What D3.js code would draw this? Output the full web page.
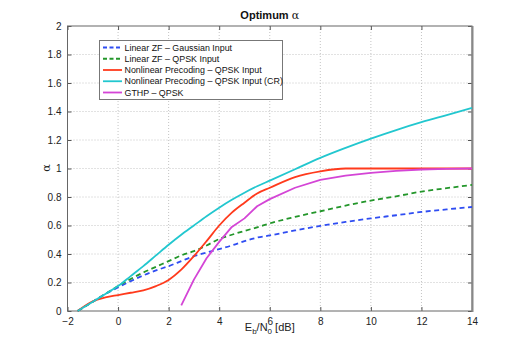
<!DOCTYPE html>
<html>
<head>
<meta charset="utf-8">
<title>Optimum alpha</title>
<script src="https://cdn.jsdelivr.net/npm/d3@7"></script>
<style>
  body { margin: 0; background: #fff; }
  svg { font-family: "Liberation Sans", Arial, sans-serif; }
</style>
</head>
<body>
<script>
// ---- data ----
var snr = [-1.6, -1, -0.5, 0, 0.5, 1, 1.5, 2, 2.5, 3, 3.5, 4, 4.5, 5, 5.5, 6, 7, 8, 9, 10, 11, 12, 13, 14];
var linZFGauss = [0, 0.065, 0.12, 0.165, 0.21, 0.25, 0.285, 0.315, 0.35, 0.385, 0.41, 0.435, 0.46, 0.49, 0.515, 0.53, 0.565, 0.597, 0.625, 0.65, 0.672, 0.695, 0.713, 0.73];
var linZFQpsk  = [0, 0.065, 0.12, 0.175, 0.225, 0.27, 0.31, 0.35, 0.39, 0.42, 0.46, 0.505, 0.535, 0.562, 0.587, 0.615, 0.66, 0.70, 0.74, 0.775, 0.805, 0.838, 0.862, 0.885];
var nlpQpsk    = [0, 0.068, 0.095, 0.112, 0.128, 0.145, 0.175, 0.218, 0.29, 0.385, 0.49, 0.60, 0.69, 0.76, 0.825, 0.865, 0.94, 0.98, 1.0, 1.0, 1.0, 1.0, 1.0, 1.0];
var nlpQpskCR  = [0, 0.065, 0.12, 0.175, 0.245, 0.315, 0.39, 0.465, 0.535, 0.60, 0.665, 0.725, 0.78, 0.83, 0.875, 0.915, 0.995, 1.075, 1.145, 1.21, 1.27, 1.325, 1.375, 1.425];
var gthpQpsk   = [null, null, null, null, null, null, null, null, 0.04, 0.22, 0.37, 0.485, 0.59, 0.65, 0.735, 0.785, 0.865, 0.92, 0.95, 0.97, 0.983, 0.993, 0.997, 1.0];

var seriesNames = ["Linear ZF \u2013 Gaussian Input", "Linear ZF \u2013 QPSK Input", "Nonlinear Precoding \u2013 QPSK Input", "Nonlinear Precoding \u2013 QPSK Input (CR)", "GTHP \u2013 QPSK"];
var seriesValues = [linZFGauss, linZFQpsk, nlpQpsk, nlpQpskCR, gthpQpsk];
var seriesColors = ["#2f4df2", "#23962a", "#ff3a1c", "#22c7cf", "#d445d6"];
var seriesDashed = [true, true, false, false, false];
var seriesSmooth = [true, true, true, true, false];

var xTicks = [-2, 0, 2, 4, 6, 8, 10, 12, 14];
var yTicks = [0, 0.2, 0.4, 0.6, 0.8, 1, 1.2, 1.4, 1.6, 1.8, 2];

// ---- layout ----
var W = 521, H = 350;
var pLeft = 67.5, pRight = 472, pTop = 26, pBottom = 311;

var svg = d3.select("body").append("svg")
            .attr("width", W)
            .attr("height", H);

var x = d3.scaleLinear().domain([-2, 14]).range([pLeft, pRight]);
var y = d3.scaleLinear().domain([0, 2]).range([pBottom, pTop]);

// grid
svg.append("g").selectAll("line").data(xTicks.slice(1, -1)).enter().append("line")
   .attr("x1", d => x(d)).attr("x2", d => x(d))
   .attr("y1", pTop).attr("y2", pBottom)
   .attr("stroke", "#c4c4c4").attr("stroke-dasharray", "1,2");
svg.append("g").selectAll("line").data(yTicks.slice(1, -1)).enter().append("line")
   .attr("x1", pLeft).attr("x2", pRight)
   .attr("y1", d => y(d)).attr("y2", d => y(d))
   .attr("stroke", "#c4c4c4").attr("stroke-dasharray", "1,2");

// axes with inside ticks
var axB = svg.append("g").attr("transform", "translate(0," + pBottom + ")")
   .call(d3.axisBottom(x).tickValues(xTicks).tickSize(-4).tickPadding(7).tickFormat(d3.format("d")));
var axT = svg.append("g").attr("transform", "translate(0," + pTop + ")")
   .call(d3.axisTop(x).tickValues(xTicks).tickSize(-4).tickFormat(""));
var axL = svg.append("g").attr("transform", "translate(" + pLeft + ",0)")
   .call(d3.axisLeft(y).tickValues(yTicks).tickSize(-4).tickPadding(6).tickFormat(d => String(+d.toFixed(1))));
var axR = svg.append("g").attr("transform", "translate(" + pRight + ",0)")
   .call(d3.axisRight(y).tickValues(yTicks).tickSize(-4).tickFormat(""));

[axB, axT, axL, axR].forEach(function(a) {
  a.select(".domain").remove();
  a.selectAll(".tick line").attr("stroke", "#555");
  a.selectAll(".tick text").attr("fill", "#222").style("font-size", "10px")
   .style("font-family", "'Liberation Sans', Arial, sans-serif");
});

// frame
svg.append("rect")
   .attr("x", pLeft).attr("y", pTop)
   .attr("width", pRight - pLeft).attr("height", pBottom - pTop)
   .attr("fill", "none").attr("stroke", "#666").attr("stroke-width", 1);
svg.append("line")
   .attr("x1", pRight + 0.5).attr("x2", pRight + 0.5)
   .attr("y1", pTop).attr("y2", pBottom + 1)
   .attr("stroke", "#888").attr("stroke-width", 2);

// curves
seriesValues.forEach(function(vals, i) {
  var line = d3.line()
               .defined(d => d[1] !== null)
               .x(d => x(d[0]))
               .y(d => y(d[1]))
               .curve(seriesSmooth[i] ? d3.curveMonotoneX : d3.curveLinear);
  svg.append("path")
     .datum(snr.map((s, j) => [s, vals[j]]))
     .attr("d", line)
     .attr("fill", "none")
     .attr("stroke", seriesColors[i])
     .attr("stroke-width", 1.8)
     .attr("stroke-dasharray", seriesDashed[i] ? "5,3.5" : null)
     .attr("stroke-linejoin", "round");
});

// title and labels
var title = svg.append("text")
   .attr("x", (pLeft + pRight) / 2).attr("y", 19)
   .attr("text-anchor", "middle")
   .style("font-size", "11px").style("font-weight", "bold")
   .attr("fill", "#111");
title.append("tspan").text("Optimum ");
title.append("tspan").style("font-family", "'DejaVu Serif', serif").style("font-weight", "normal").text("\u03b1");

svg.append("text")
   .attr("transform", "translate(50,168) rotate(-90)")
   .attr("text-anchor", "middle")
   .style("font-size", "11px").style("font-family", "'DejaVu Serif', serif")
   .attr("fill", "#222")
   .text("\u03b1");

var xl = svg.append("text")
   .attr("x", (pLeft + pRight) / 2).attr("y", 330.5)
   .attr("text-anchor", "middle")
   .style("font-size", "11px")
   .attr("fill", "#222");
xl.append("tspan").text("E");
xl.append("tspan").attr("dy", 3).style("font-size", "8px").text("b");
xl.append("tspan").attr("dy", -3).text("/N");
xl.append("tspan").attr("dy", 3).style("font-size", "8px").text("0");
xl.append("tspan").attr("dy", -3).text(" [dB]");

// legend
var lgX = 99, lgY = 40, lgW = 183, lgH = 59, rowH = 11.25;
var legend = svg.append("g");
legend.append("rect")
   .attr("x", lgX + 0.5).attr("y", lgY + 0.5)
   .attr("width", lgW).attr("height", lgH)
   .attr("fill", "#fff").attr("stroke", "#777");

var rows = legend.selectAll("g.row").data(seriesNames).enter().append("g")
   .attr("transform", (d, i) => "translate(0," + (lgY + 7.5 + i * rowH) + ")");
rows.append("line")
   .attr("x1", 103).attr("x2", 122)
   .attr("stroke", (d, i) => seriesColors[i])
   .attr("stroke-width", 1.8)
   .attr("stroke-dasharray", (d, i) => seriesDashed[i] ? "4,2.5" : null);
rows.append("text")
   .attr("x", 124.5).attr("y", 0).attr("dy", "0.35em")
   .style("font-size", "8.9px")
   .attr("fill", "#111")
   .text(d => d);
</script>
</body>
</html>
